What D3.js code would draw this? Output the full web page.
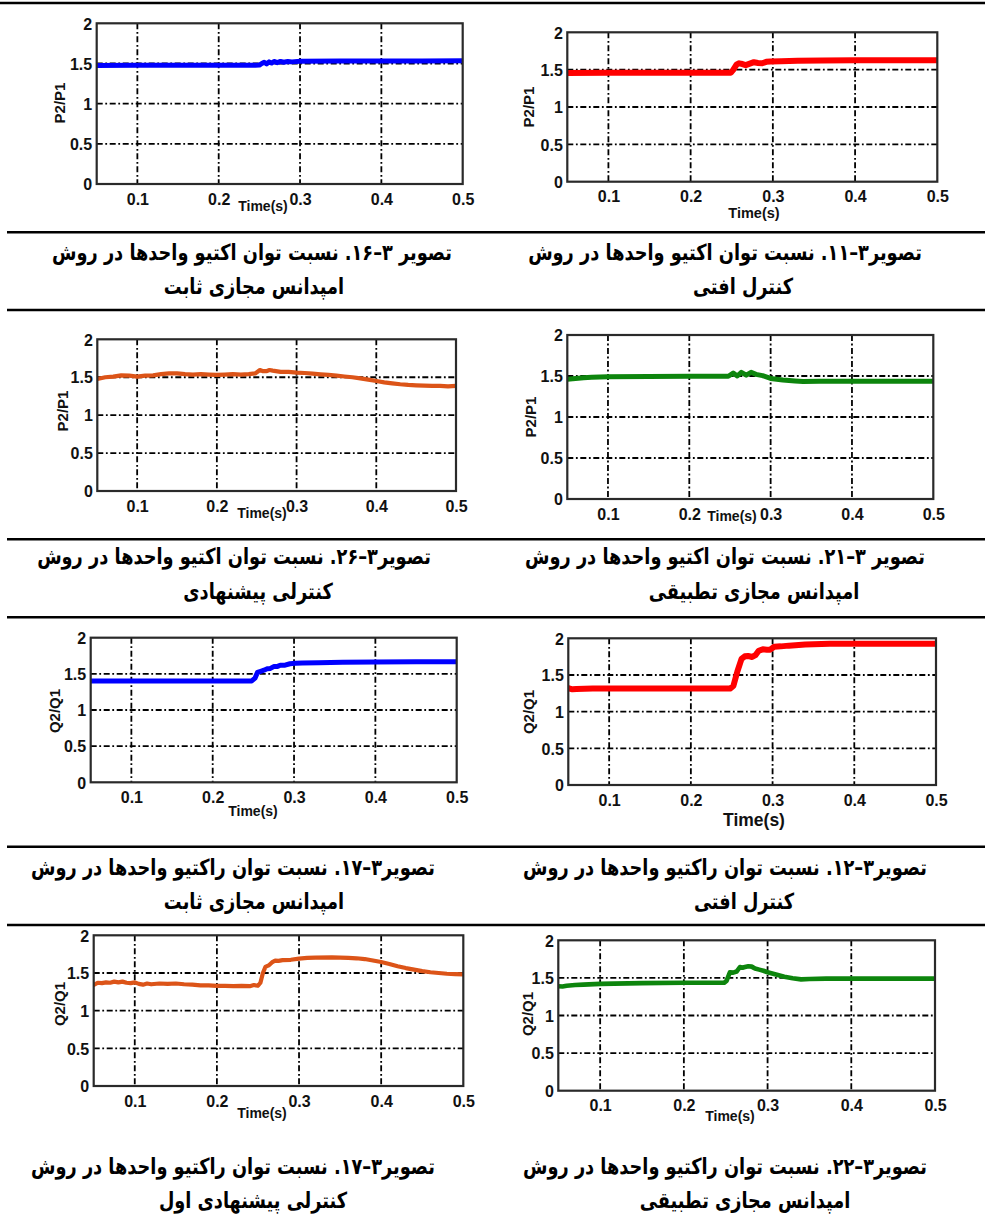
<!DOCTYPE html>
<html><head><meta charset="utf-8">
<script src="https://cdn.jsdelivr.net/npm/d3@7/dist/d3.min.js"></script>
<style>body{margin:0;background:#fff}svg{display:block}</style>
</head><body>
<svg id="c" width="985" height="1222"></svg>
<script>
// ---------- shared axes ----------
const xTicks = [0.1, 0.2, 0.3, 0.4, 0.5];
const yTicks = [0, 0.5, 1, 1.5, 2];
const xGrid = [0.1, 0.2, 0.3, 0.4];
const yGrid = [0.5, 1, 1.5];
const xDomain = [0.05, 0.5];
const yDomain = [0, 2];
const xLabelText = "Time(s)";

// ---------- series (time s, ratio) ----------
// Fig 3-16 : P2/P1 fixed virtual impedance (blue)
const t16 = [0.05,0.1,0.15,0.2,0.245,0.25,0.253,0.256,0.259,0.262,0.265,0.268,0.272,0.276,0.28,0.285,0.29,0.3,0.35,0.4,0.45,0.5];
const v16 = [1.475,1.478,1.478,1.478,1.478,1.48,1.5,1.515,1.495,1.52,1.505,1.525,1.51,1.525,1.515,1.525,1.52,1.528,1.53,1.532,1.532,1.533];
// Fig 3-11 : P2/P1 droop control (red)
const t11 = [0.05,0.1,0.15,0.2,0.249,0.252,0.256,0.259,0.263,0.267,0.272,0.277,0.282,0.287,0.292,0.297,0.31,0.33,0.36,0.4,0.45,0.5];
const v11 = [1.455,1.46,1.46,1.46,1.46,1.5,1.57,1.585,1.575,1.56,1.58,1.6,1.59,1.585,1.605,1.61,1.612,1.618,1.622,1.625,1.625,1.625];
// Fig 3-26 : P2/P1 proposed control (orange)
const t26 = [0.05,0.06,0.07,0.08,0.09,0.1,0.11,0.12,0.13,0.14,0.15,0.16,0.17,0.18,0.19,0.2,0.21,0.22,0.23,0.24,0.248,0.254,0.258,0.262,0.266,0.27,0.28,0.29,0.3,0.31,0.32,0.33,0.34,0.35,0.36,0.37,0.38,0.39,0.4,0.41,0.42,0.43,0.44,0.45,0.46,0.47,0.48,0.49,0.5];
const v26 = [1.477,1.5,1.508,1.525,1.52,1.508,1.52,1.525,1.54,1.55,1.55,1.54,1.535,1.54,1.535,1.53,1.535,1.54,1.535,1.54,1.55,1.595,1.58,1.58,1.595,1.587,1.57,1.57,1.56,1.556,1.547,1.538,1.53,1.52,1.51,1.5,1.485,1.468,1.45,1.433,1.42,1.407,1.398,1.393,1.389,1.385,1.385,1.38,1.385];
// Fig 3-21 : P2/P1 adaptive virtual impedance (green)
const t21 = [0.05,0.06,0.07,0.08,0.1,0.15,0.2,0.248,0.254,0.259,0.264,0.27,0.276,0.282,0.29,0.3,0.315,0.33,0.34,0.36,0.4,0.45,0.5];
const v21 = [1.46,1.47,1.48,1.485,1.49,1.495,1.497,1.497,1.535,1.5,1.545,1.51,1.545,1.52,1.505,1.47,1.45,1.438,1.432,1.435,1.437,1.437,1.437];
// Fig 3-17 : Q2/Q1 fixed virtual impedance (blue)
const t17a = [0.05,0.1,0.15,0.2,0.248,0.252,0.255,0.259,0.263,0.267,0.271,0.275,0.279,0.283,0.289,0.295,0.302,0.31,0.33,0.36,0.4,0.45,0.5];
const v17a = [1.4,1.402,1.402,1.402,1.402,1.44,1.52,1.535,1.55,1.57,1.575,1.6,1.6,1.62,1.62,1.64,1.645,1.65,1.655,1.66,1.665,1.668,1.668];
// Fig 3-12 : Q2/Q1 droop control (red)
const t12 = [0.05,0.055,0.06,0.08,0.1,0.15,0.2,0.248,0.252,0.257,0.262,0.266,0.27,0.275,0.279,0.283,0.288,0.293,0.297,0.302,0.31,0.32,0.34,0.37,0.4,0.45,0.5];
const v12 = [1.32,1.305,1.31,1.315,1.315,1.315,1.315,1.315,1.35,1.55,1.72,1.755,1.76,1.745,1.77,1.83,1.85,1.845,1.845,1.885,1.89,1.9,1.915,1.925,1.927,1.927,1.927];
// Fig 3-17 (second) : Q2/Q1 first proposed control (orange)
const t17b = [0.05,0.055,0.06,0.065,0.07,0.075,0.08,0.085,0.09,0.095,0.1,0.105,0.11,0.115,0.12,0.13,0.14,0.15,0.16,0.17,0.18,0.19,0.2,0.21,0.22,0.23,0.24,0.245,0.25,0.253,0.256,0.259,0.263,0.267,0.271,0.275,0.28,0.29,0.3,0.31,0.32,0.34,0.36,0.37,0.38,0.39,0.4,0.41,0.42,0.43,0.44,0.45,0.46,0.47,0.48,0.49,0.5];
const v17b = [1.34,1.37,1.365,1.375,1.37,1.385,1.375,1.385,1.37,1.365,1.375,1.355,1.345,1.36,1.35,1.36,1.355,1.36,1.35,1.345,1.335,1.335,1.33,1.33,1.325,1.33,1.325,1.34,1.33,1.37,1.5,1.58,1.6,1.64,1.665,1.66,1.67,1.675,1.69,1.7,1.705,1.706,1.7,1.695,1.685,1.665,1.645,1.62,1.59,1.565,1.545,1.525,1.51,1.5,1.49,1.485,1.482];
// Fig 3-22 : Q2/Q1 adaptive virtual impedance (green)
const t22 = [0.05,0.055,0.06,0.07,0.08,0.1,0.15,0.2,0.248,0.251,0.255,0.259,0.263,0.267,0.27,0.273,0.277,0.281,0.285,0.29,0.295,0.3,0.31,0.32,0.33,0.34,0.35,0.37,0.4,0.45,0.5];
const v22 = [1.39,1.385,1.395,1.405,1.41,1.42,1.43,1.435,1.435,1.46,1.575,1.57,1.585,1.645,1.635,1.645,1.655,1.65,1.625,1.61,1.595,1.575,1.545,1.515,1.495,1.48,1.485,1.49,1.49,1.49,1.49];

// ---------- captions ----------
const captions = [
  ["تصویر ۳–۱۶. نسبت توان اکتیو واحدها در روش", "امپدانس مجازی ثابت"],
  ["تصویر۳–۱۱. نسبت توان اکتیو واحدها در روش", "کنترل افتی"],
  ["تصویر۳–۲۶. نسبت توان اکتیو واحدها در روش", "کنترلی پیشنهادی"],
  ["تصویر ۳–۲۱.  نسبت توان اکتیو واحدها در روش", "امپدانس مجازی تطبیقی"],
  ["تصویر۳–۱۷. نسبت توان راکتیو واحدها در روش", "امپدانس مجازی ثابت"],
  ["تصویر۳–۱۲. نسبت توان راکتیو واحدها در روش", "کنترل افتی"],
  ["تصویر۳–۱۷. نسبت توان راکتیو واحدها در روش", "کنترلی پیشنهادی اول"],
  ["تصویر۳–۲۲. نسبت توان راکتیو واحدها در روش", "امپدانس مجازی تطبیقی"]
];

// ---------- panels (layout + style) ----------
const panels = [
  {t:t16, v:v16, ylab:"P2/P1", color:"#0000ff", sw:5,   L:96.7,  R:462.7, T:23.3,  B:184,    xl:[263,211,14], yl:[60,103]},
  {t:t11, v:v11, ylab:"P2/P1", color:"#ff0000", sw:6,   L:567.3, R:937.3, T:32.3,  B:181.7,  xl:[754,218,14.5], yl:[529,107]},
  {t:t26, v:v26, ylab:"P2/P1", color:"#dc5418", sw:4.2, L:97.3,  R:456,   T:339.3, B:491,    xl:[262,518,14], yl:[63,411]},
  {t:t21, v:v21, ylab:"P2/P1", color:"#0d850d", sw:5,   L:567.3, R:933.3, T:335,   B:499,    xl:[732,521,14], yl:[531,417]},
  {t:t17a,v:v17a,ylab:"Q2/Q1", color:"#0000ff", sw:5,   L:90.7,  R:456.7, T:637.7, B:782.3,  xl:[253,816,14], yl:[55,711]},
  {t:t12, v:v12, ylab:"Q2/Q1", color:"#ff0000", sw:6,   L:568.3, R:936,   T:638.3, B:785,    xl:[754,826,17.5], yl:[529,712]},
  {t:t17b,v:v17b,ylab:"Q2/Q1", color:"#dc5418", sw:4.2, L:93.7,  R:463.3, T:935.3, B:1086,   xl:[262,1118,14], yl:[60,1004]},
  {t:t22, v:v22, ylab:"Q2/Q1", color:"#0d850d", sw:4.6, L:558.3, R:935,   T:940.3, B:1090.7, xl:[730,1121,14], yl:[528,1014]}
];

// caption layout: [centerX line1, centerX line2, baseline1, baseline2]
const capLayout = [
  [252,254,260,294],[725,743,260,294],
  [234,258,564,599],[725,754,564,599],
  [233,254,875,909],[725,744,875,909],
  [233,253,1174,1208],[725,745,1174,1208]
];
const capLine1Width = [397,390,398,404,403,404,403,406];

const sepLines = [[0,3],[7,232.3],[7,310],[7,539.3],[7,617.3],[7,846.7],[7,925]];

const svg = d3.select("#c");
const tickFont = "'Liberation Sans', Arial, sans-serif";

// separators
svg.selectAll("line.sep").data(sepLines).enter().append("line")
  .attr("x1", d => d[0]).attr("x2", 985).attr("y1", d => d[1]).attr("y2", d => d[1])
  .attr("stroke", "#000").attr("stroke-width", 2.6);

panels.forEach((p, i) => {
  const x = d3.scaleLinear().domain(xDomain).range([p.L, p.R]);
  const y = d3.scaleLinear().domain(yDomain).range([p.B, p.T]);
  const g = svg.append("g");
  const id = "clip" + i;
  g.append("clipPath").attr("id", id).append("rect")
    .attr("x", p.L).attr("y", p.T).attr("width", p.R - p.L).attr("height", p.B - p.T);
  g.append("rect").attr("x", p.L).attr("y", p.T).attr("width", p.R - p.L).attr("height", p.B - p.T)
    .attr("fill", "#fff");
  // grid (dash-dot)
  const dash = "6,2.6,1.8,2.6";
  g.selectAll("line.gx").data(xGrid).enter().append("line")
    .attr("x1", d => x(d)).attr("x2", d => x(d)).attr("y1", p.T).attr("y2", p.B)
    .attr("stroke", "#000").attr("stroke-width", 1.8).attr("stroke-dasharray", dash);
  g.selectAll("line.gy").data(yGrid).enter().append("line")
    .attr("x1", p.L).attr("x2", p.R).attr("y1", d => y(d)).attr("y2", d => y(d))
    .attr("stroke", "#000").attr("stroke-width", 1.8).attr("stroke-dasharray", dash);
  // series
  const line = d3.line().x(d => x(d[0])).y(d => y(d[1])).curve(d3.curveLinear);
  const pts = p.t.map((tt, k) => [tt, p.v[k]]);
  g.append("path").datum(pts).attr("d", line)
    .attr("fill", "none").attr("stroke", p.color).attr("stroke-width", p.sw)
    .attr("stroke-linejoin", "round").attr("stroke-linecap", "round")
    .attr("clip-path", `url(#${id})`);
  // frame
  g.append("rect").attr("x", p.L).attr("y", p.T).attr("width", p.R - p.L).attr("height", p.B - p.T)
    .attr("fill", "none").attr("stroke", "#2a2a2a").attr("stroke-width", 2.2);
  // axes via d3 (labels only, no tick marks)
  const ax = g.append("g").attr("transform", `translate(0,${p.B})`)
    .call(d3.axisBottom(x).tickValues(xTicks).tickFormat(d3.format(".1f")).tickSize(0).tickPadding(8));
  ax.select(".domain").remove();
  ax.selectAll("text").attr("font-family", tickFont).attr("font-weight", "bold")
    .attr("font-size", 16).attr("fill", "#111").attr("dy", null).attr("y", 20.5);
  const ay = g.append("g").attr("transform", `translate(${p.L},0)`)
    .call(d3.axisLeft(y).tickValues(yTicks).tickFormat(d => String(d)).tickSize(0).tickPadding(4.5));
  ay.select(".domain").remove();
  ay.selectAll("text").attr("font-family", tickFont).attr("font-weight", "bold")
    .attr("font-size", 16).attr("fill", "#111").attr("dy", "0.36em");
  // axis labels
  g.append("text").attr("x", p.xl[0]).attr("y", p.xl[1]).attr("text-anchor", "middle")
    .attr("font-family", tickFont).attr("font-weight", "bold").attr("font-size", p.xl[2])
    .attr("fill", "#111").text(xLabelText);
  g.append("text").attr("transform", `translate(${p.yl[0]},${p.yl[1]}) rotate(-90)`)
    .attr("text-anchor", "middle").attr("dy", "0.36em")
    .attr("font-family", tickFont).attr("font-weight", "bold").attr("font-size", 15)
    .attr("fill", "#111").text(p.ylab);
});

// captions: larger glyphs, horizontally condensed to the measured line widths
const capFont = "'DejaVu Sans', sans-serif";
const capSize = 22;
const capG = svg.append("g");
const l1 = [], l2 = [];
captions.forEach((c, i) => {
  const lay = capLayout[i];
  l1.push(capG.append("text").attr("direction", "rtl").attr("text-anchor", "middle")
    .attr("font-family", capFont).attr("font-weight", "bold")
    .attr("font-size", capSize).attr("fill", "#000").text(c[0]).datum([lay[0], lay[2]]));
  l2.push(capG.append("text").attr("direction", "rtl").attr("text-anchor", "middle")
    .attr("font-family", capFont).attr("font-weight", "bold")
    .attr("font-size", capSize).attr("fill", "#000").text(c[1]).datum([lay[1], lay[3]]));
});
let sx = 0;
l1.forEach((t, i) => { sx += capLine1Width[i] / t.node().getComputedTextLength(); });
sx /= l1.length;
l1.concat(l2).forEach(t => {
  const d = t.datum();
  t.attr("transform", `translate(${d[0]},${d[1]}) scale(${sx},1)`);
});
</script>
</body></html>
